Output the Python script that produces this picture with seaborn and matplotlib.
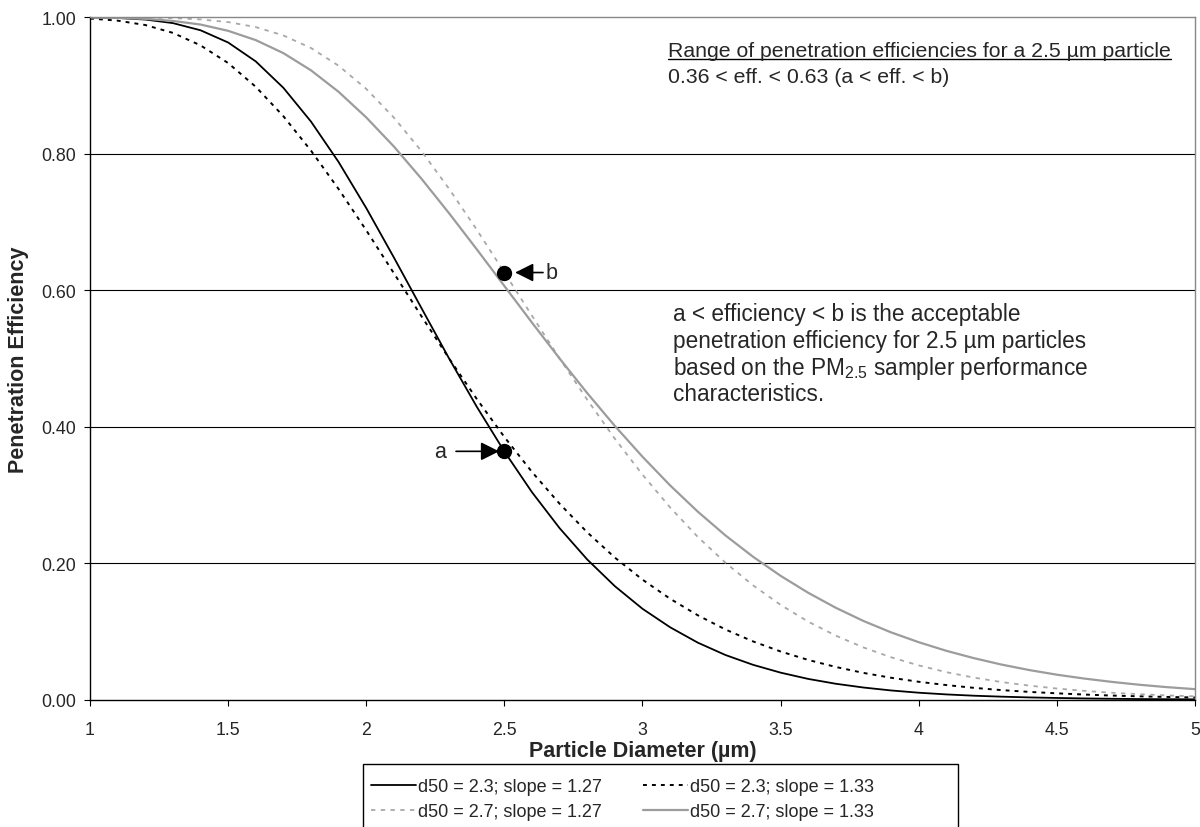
import matplotlib
matplotlib.use("Agg")
import matplotlib.pyplot as plt
import seaborn as sns
from matplotlib.patches import Rectangle

# particle diameter (um) and penetration efficiency
diameter = [1.0, 1.1, 1.2, 1.3, 1.4, 1.5, 1.6, 1.7, 1.8, 1.9,
            2.0, 2.1, 2.2, 2.3, 2.4, 2.5, 2.6, 2.7, 2.8, 2.9,
            3.0, 3.1, 3.2, 3.3, 3.4, 3.5, 3.6, 3.7, 3.8, 3.9,
            4.0, 4.1, 4.2, 4.3, 4.4, 4.5, 4.6, 4.7, 4.8, 4.9, 5.0]

eff_23_127 = [0.9998, 0.9990, 0.9967, 0.9915, 0.9810, 0.9631, 0.9354, 0.8967, 0.8472, 0.7879,
              0.7205, 0.6481, 0.5738, 0.5000, 0.4294, 0.3638, 0.3041, 0.2514, 0.2055, 0.1664,
              0.1333, 0.1062, 0.0837, 0.0656, 0.0512, 0.0397, 0.0305, 0.0234, 0.0179, 0.0136,
              0.0103, 0.0078, 0.0059, 0.0045, 0.0034, 0.0026, 0.0019, 0.0014, 0.0010, 0.0008, 0.0006]

eff_23_133 = [0.9982, 0.9951, 0.9887, 0.9772, 0.9589, 0.9330, 0.8982, 0.8551, 0.8046, 0.7483,
              0.6879, 0.6250, 0.5619, 0.5000, 0.4408, 0.3850, 0.3338, 0.2872, 0.2453, 0.2083,
              0.1760, 0.1480, 0.1238, 0.1030, 0.0855, 0.0707, 0.0583, 0.0480, 0.0393, 0.0322,
              0.0263, 0.0215, 0.0174, 0.0141, 0.0115, 0.0094, 0.0076, 0.0061, 0.0050, 0.0041, 0.0033]

eff_27_127 = [1.0000, 0.9999, 0.9997, 0.9989, 0.9969, 0.9930, 0.9857, 0.9734, 0.9550, 0.9290,
              0.8951, 0.8531, 0.8039, 0.7486, 0.6889, 0.6261, 0.5627, 0.5000, 0.4396, 0.3825,
              0.3299, 0.2818, 0.2387, 0.2009, 0.1677, 0.1390, 0.1144, 0.0939, 0.0766, 0.0622,
              0.0503, 0.0404, 0.0324, 0.0259, 0.0207, 0.0164, 0.0130, 0.0102, 0.0081, 0.0063, 0.0050]

eff_27_133 = [0.9998, 0.9992, 0.9977, 0.9947, 0.9894, 0.9802, 0.9666, 0.9475, 0.9223, 0.8908,
              0.8533, 0.8107, 0.7634, 0.7128, 0.6601, 0.6063, 0.5526, 0.5000, 0.4493, 0.4012,
              0.3561, 0.3141, 0.2757, 0.2409, 0.2096, 0.1816, 0.1567, 0.1347, 0.1154, 0.0987,
              0.0843, 0.0717, 0.0609, 0.0515, 0.0435, 0.0367, 0.0310, 0.0261, 0.0219, 0.0184, 0.0155]

labels = ["d50 = 2.3; slope = 1.27", "d50 = 2.3; slope = 1.33",
          "d50 = 2.7; slope = 1.27", "d50 = 2.7; slope = 1.33"]

# marked points a and b at 2.5 um
mark_x = 2.5
mark_a = 0.364
mark_b = 0.626

x_ticks = [1, 1.5, 2, 2.5, 3, 3.5, 4, 4.5, 5]
x_ticklabels = ["1", "1.5", "2", "2.5", "3", "3.5", "4", "4.5", "5"]
y_ticks = [0.0, 0.2, 0.4, 0.6, 0.8, 1.0]

sns.set_style("white")
plt.rcParams["font.family"] = ["Liberation Sans", "DejaVu Sans"]
plt.rcParams["mathtext.fontset"] = "custom"
plt.rcParams["mathtext.rm"] = "Liberation Sans"
plt.rcParams["mathtext.it"] = "Liberation Sans:italic"

fig = plt.figure(figsize=(12, 8.28), dpi=100)
ax = fig.add_axes([0.075, 0.1537, 0.9208, 0.8242])

styles = [
    dict(color="black", linestyle="-", lw=1.3),
    dict(color="black", linestyle=(0, (2, 2.6)), lw=1.4),
    dict(color="#a8a8a8", linestyle=(0, (2.4, 3)), lw=1.3),
    dict(color="#9c9c9c", linestyle="-", lw=1.6),
]
series = [eff_23_127, eff_23_133, eff_27_127, eff_27_133]
for vals, lab, st in zip(series, labels, styles):
    sns.lineplot(x=diameter, y=vals, ax=ax, label=lab, legend=False, **st)

# horizontal grid
for yv in y_ticks[1:-1]:
    ax.axhline(yv, color="black", lw=0.8, zorder=0)

ax.set_xlim(1, 5)
ax.set_ylim(0, 1)
ax.set_xticks(x_ticks)
ax.set_xticklabels(x_ticklabels)
ax.set_yticks(y_ticks)
ax.set_yticklabels([f"{v:.2f}" for v in y_ticks])
ax.tick_params(axis="both", direction="out", length=4, width=0.8, color="black",
               labelsize=12.8, pad=6, bottom=True, left=True)
ax.tick_params(axis="x", pad=11)

for side in ["left", "bottom"]:
    ax.spines[side].set_color("black")
    ax.spines[side].set_linewidth(1.0)
for side in ["top", "right"]:
    ax.spines[side].set_color("#888888")
    ax.spines[side].set_linewidth(1.0)

ax.set_xlabel("Particle Diameter (µm)", fontsize=15.5, fontweight="bold", va="center")
ax.xaxis.set_label_coords(0.5, -0.075)
ax.set_ylabel("Penetration Efficiency", fontsize=15.5, fontweight="bold", va="center")
ax.yaxis.set_label_coords(-0.065, 0.5)

# points a and b with arrows
ax.plot([mark_x, mark_x], [mark_a, mark_b], "o", color="black", ms=10, zorder=5)
arrow = dict(arrowstyle="-|>,head_length=0.4,head_width=0.2", color="black",
             lw=1.2, mutation_scale=28, shrinkA=0, shrinkB=0)
ax.annotate("", xy=(2.481, mark_a), xytext=(2.325, mark_a), arrowprops=arrow)
ax.annotate("", xy=(2.539, mark_b), xytext=(2.640, mark_b), arrowprops=arrow)
ax.text(2.267, mark_a, "a", fontsize=15.5, ha="center", va="center")
ax.text(2.672, mark_b, "b", fontsize=15.5, ha="center", va="center")

# annotation texts
t1 = ax.text(0.523, 0.943, "Range of penetration efficiencies for a 2.5 µm particle",
             transform=ax.transAxes, fontsize=15.3, va="baseline")
ax.text(0.523, 0.905, "0.36 < eff. < 0.63 (a < eff. < b)",
        transform=ax.transAxes, fontsize=15.3, va="baseline")

mid_lines = ["a < efficiency < b is the acceptable",
             "penetration efficiency for 2.5 µm particles",
             r"based on the PM$_{\mathrm{2.5}}$ sampler performance",
             "characteristics."]
mid_y = [0.556, 0.517, 0.478, 0.439]
for txt, yy in zip(mid_lines, mid_y):
    ax.text(0.5276, yy, txt, transform=ax.transAxes, fontsize=16.3, va="baseline")

# legend (frame drawn separately to match the wide box)
handles = ax.get_lines()[:4]
order = [0, 2, 1, 3]
fig.legend([handles[i] for i in order], [labels[i] for i in order],
           loc="upper left", bbox_to_anchor=(371 / 1200, 1 - 779 / 828),
           ncol=2, frameon=False, fontsize=13, handlelength=2.5,
           handletextpad=0.1, columnspacing=2.3, labelspacing=0.45,
           borderpad=0, borderaxespad=0)
fig.add_artist(Rectangle((363 / 1200, -0.05), 595 / 1200, 0.05 + 1 - 765 / 828,
                         transform=fig.transFigure, fill=False, edgecolor="black", lw=1.0))

# underline of the first annotation line
fig.canvas.draw()
bb = t1.get_window_extent(fig.canvas.get_renderer()).transformed(ax.transAxes.inverted())
ax.plot([bb.x0, bb.x1], [0.939, 0.939], color="black", lw=1.0, transform=ax.transAxes,
        clip_on=False)

fig.savefig("out.png", dpi=100)
